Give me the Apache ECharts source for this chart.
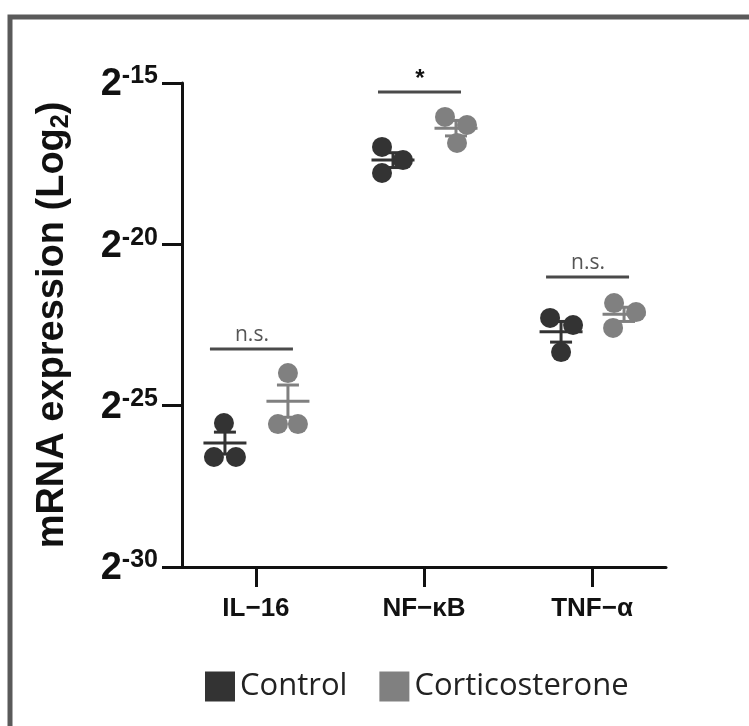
<!DOCTYPE html>
<html>
<head>
<meta charset="utf-8">
<script src="https://cdn.jsdelivr.net/npm/echarts@6/dist/echarts.min.js"></script>
<style>
html,body{margin:0;padding:0;background:#fff;}
#chart{width:749px;height:726px;}
</style>
</head>
<body>
<div id="chart"></div>
<script>
// ---------- data (log2 values) ----------
const categories = ['IL\u221216', 'NF\u2212\u03BAB', 'TNF\u2212\u03B1'];
const controlValues = [
  [-25.54, -26.59, -26.59],
  [-16.98, -17.39, -17.79],
  [-22.28, -22.50, -23.34]
];
const corticoValues = [
  [-23.99, -25.57, -25.57],
  [-16.05, -16.30, -16.86],
  [-21.82, -22.10, -22.59]
];
const controlMean = [-26.16, -17.39, -22.71];
const controlSem = [0.34, 0.23, 0.32];
const corticoMean = [-24.86, -16.40, -22.17];
const corticoSem = [0.50, 0.24, 0.22];
const sigLabels = ['n.s.', '*', 'n.s.'];
const sigLevels = [-23.24, -15.28, -21.01];
const yTickValues = [-30, -25, -20, -15];

// ---------- layout (pixels) ----------
const groupOffset = { control: -31, cortico: 32 };
const controlJitter = [[-1, -11, 11], [-11, 10, -11], [-11, 12, 0]];
const corticoJitter = [[0, -10, 10], [-11, 11, 1], [-10, 12, -11]];
const DARK = '#333333';
const GREY = '#808080';

function pointData(values, jitter, off) {
  const out = [];
  values.forEach((grp, ci) => {
    grp.forEach((v, k) => {
      out.push({ value: [ci + 1, v], symbolOffset: [off + jitter[ci][k], 0] });
    });
  });
  return out;
}
function semData(mean, sem) {
  return mean.map((m, i) => [i + 1, m, sem[i]]);
}
function semRender(off, color) {
  return function (params, api) {
    const c = api.coord([api.value(0), api.value(1)]);
    const hi = api.coord([api.value(0), api.value(1) + api.value(2)]);
    const lo = api.coord([api.value(0), api.value(1) - api.value(2)]);
    const x = c[0] + off;
    const st = { stroke: color, lineWidth: 3 };
    return {
      type: 'group',
      children: [
        { type: 'line', shape: { x1: x - 21.5, y1: c[1], x2: x + 21.5, y2: c[1] }, style: st },
        { type: 'line', shape: { x1: x, y1: hi[1], x2: x, y2: lo[1] }, style: st },
        { type: 'line', shape: { x1: x - 11, y1: hi[1], x2: x + 11, y2: hi[1] }, style: st },
        { type: 'line', shape: { x1: x - 11, y1: lo[1], x2: x + 11, y2: lo[1] }, style: st }
      ]
    };
  };
}

const chart = echarts.init(document.getElementById('chart'), null, { renderer: 'canvas' });
const option = {
  backgroundColor: '#ffffff',
  animation: false,
  graphic: [{
    type: 'rect',
    shape: { x: 10, y: 17, width: 900, height: 900 },
    style: { fill: 'none', stroke: '#5a5a5a', lineWidth: 5 },
    z: 0
  }],
  grid: { left: 182, top: 83, width: 484, height: 484 },
  legend: {
    data: ['Control', 'Corticosterone'],
    left: 205, top: 671, padding: 0,
    icon: 'rect', itemWidth: 30, itemHeight: 30, itemGap: 32,
    textStyle: { fontFamily: 'Open Sans', fontSize: 31, color: '#222' }
  },
  xAxis: {
    type: 'value', min: 0.56, max: 3.44,
    splitLine: { show: false },
    axisLine: { show: true, onZero: false, lineStyle: { color: '#111', width: 3 } },
    axisTick: { show: true, customValues: [1, 2, 3], length: 20, lineStyle: { color: '#111', width: 3 } },
    axisLabel: {
      customValues: [1, 2, 3], margin: 29,
      formatter: v => categories[Math.round(v) - 1] || '',
      fontFamily: 'Liberation Sans', fontWeight: 'bold', fontSize: 26, color: '#111'
    }
  },
  yAxis: {
    type: 'value', min: -30, max: -15, interval: 5,
    splitLine: { show: false },
    axisLine: { show: true, onZero: false, lineStyle: { color: '#111', width: 3 } },
    axisTick: { show: true, length: 20, lineStyle: { color: '#111', width: 3 } },
    axisLabel: {
      margin: 24,
      formatter: v => '{b|2}{s|' + v + '}',
      rich: {
        b: { fontFamily: 'Liberation Sans', fontWeight: 'bold', fontSize: 38, lineHeight: 38, color: '#111', padding: [4, 0, 0, 0] },
        s: { fontFamily: 'Liberation Sans', fontWeight: 'bold', fontSize: 25, lineHeight: 22, verticalAlign: 'top', color: '#111' }
      }
    },
    name: '{t|mRNA expression (Log}{u|2}{t|)}',
    nameLocation: 'middle', nameRotate: 90, nameGap: 108,
    nameTextStyle: {
      rich: {
        t: { fontFamily: 'Liberation Sans', fontWeight: 'bold', fontSize: 38, lineHeight: 42, color: '#111' },
        u: { fontFamily: 'Liberation Sans', fontWeight: 'bold', fontSize: 25, lineHeight: 26, verticalAlign: 'bottom', color: '#111' }
      }
    }
  },
  series: [
    { name: 'Control SEM', type: 'custom', renderItem: semRender(groupOffset.control, DARK), data: semData(controlMean, controlSem), z: 2 },
    { name: 'Corticosterone SEM', type: 'custom', renderItem: semRender(groupOffset.cortico, GREY), data: semData(corticoMean, corticoSem), z: 2 },
    {
      name: 'Control', type: 'scatter', symbol: 'circle', symbolSize: 20,
      itemStyle: { color: DARK, opacity: 1 }, z: 3,
      data: pointData(controlValues, controlJitter, groupOffset.control)
    },
    {
      name: 'Corticosterone', type: 'scatter', symbol: 'circle', symbolSize: 20,
      itemStyle: { color: GREY, opacity: 1 }, z: 3,
      data: pointData(corticoValues, corticoJitter, groupOffset.cortico)
    },
    {
      name: 'significance', type: 'custom', z: 4,
      data: sigLevels.map((l, i) => [i + 1, l]),
      renderItem: function (params, api) {
        const c = api.coord([api.value(0), api.value(1)]);
        const lab = sigLabels[params.dataIndex];
        const star = lab === '*';
        return {
          type: 'group',
          children: [
            { type: 'line', shape: { x1: c[0] - 46, y1: c[1], x2: c[0] + 37, y2: c[1] }, style: { stroke: '#4a4a4a', lineWidth: 3 } },
            {
              type: 'text',
              style: {
                text: lab, x: c[0] - 4, y: c[1] - (star ? 1 : 3),
                align: 'center', verticalAlign: 'bottom', textAlign: 'center', textVerticalAlign: 'bottom',
                fontFamily: star ? 'Liberation Sans' : 'Open Sans', fontSize: star ? 24 : 21, fontWeight: star ? 'bold' : 'normal',
                fill: star ? '#111' : '#555'
              }
            }
          ]
        };
      }
    }
  ]
};
chart.setOption(option);
</script>
</body>
</html>
